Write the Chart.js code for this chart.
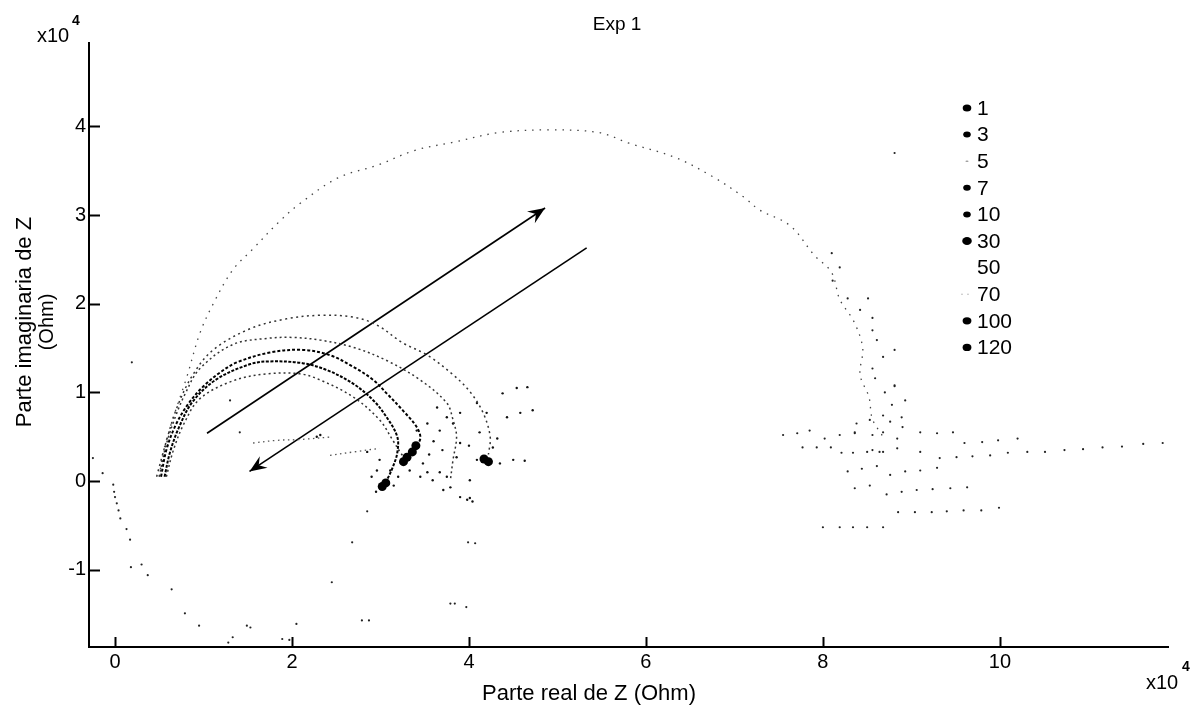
<!DOCTYPE html>
<html>
<head>
<meta charset="utf-8">
<script src="https://cdn.jsdelivr.net/npm/chart.js@4.4.1/dist/chart.umd.min.js"></script>
<style>
  html, body { margin: 0; padding: 0; background: #fff; }
  #wrap { width: 1192px; height: 715px; }
</style>
</head>
<body>
<div id="wrap"><canvas id="nyquist" width="1192" height="715"></canvas></div>
<script>
// values are in units of 1e4 Ohm (axes carry the x10^4 factor)
const seriesNames = ['1', '3', '5', '7', '10', '30', '50', '70', '100', '120'];
const xTicks = [0, 2, 4, 6, 8, 10];
const yTicks = [-1, 0, 1, 2, 3, 4];

// arcs
const arc1 = [[0.52,0.05],[0.58,0.35],[0.68,0.62],[0.82,0.86],[0.99,1.06],[1.18,1.22],[1.38,1.34],[1.75,1.45],[2.12,1.48],[2.43,1.42],[2.69,1.29],[2.92,1.14],[3.07,0.99],[3.25,0.80],[3.41,0.61],[3.45,0.48],[3.38,0.36]];
const arc3 = [[0.56,0.05],[0.62,0.32],[0.72,0.60],[0.88,0.90],[1.15,1.15],[1.53,1.32],[1.75,1.35],[2.12,1.33],[2.40,1.25],[2.69,1.10],[2.92,0.91],[3.07,0.72],[3.19,0.50],[3.19,0.32],[3.14,0.16],[3.07,0.01],[3.02,-0.05]];
const arc7 = [[0.58,0.05],[0.66,0.35],[0.78,0.65],[0.96,0.93],[1.33,1.13],[1.72,1.21],[2.09,1.21],[2.32,1.14],[2.69,0.95],[2.99,0.69],[3.14,0.46],[3.22,0.33],[3.28,0.25]];
const arc10 = [[0.50,0.05],[0.57,0.38],[0.68,0.72],[0.80,1.00],[0.96,1.27],[1.33,1.54],[1.72,1.61],[2.01,1.62],[2.32,1.59],[2.69,1.51],[3.07,1.36],[3.45,1.14],[3.75,0.88],[3.82,0.69],[3.86,0.50],[3.82,0.24],[3.79,0.01]];
const arc30 = [[0.47,0.05],[0.58,0.45],[0.70,0.83],[0.88,1.20],[1.11,1.48],[1.53,1.72],[1.94,1.83],[2.32,1.87],[2.69,1.85],[2.96,1.76],[3.25,1.56],[3.53,1.42],[3.82,1.20],[4.01,1.01],[4.16,0.77],[4.24,0.50],[4.22,0.30]];
const arc70 = [[0.50,0.05],[0.55,0.35],[0.66,0.72],[0.81,1.17],[0.96,1.67],[1.11,2.00],[1.33,2.38],[1.56,2.62],[1.85,2.92],[2.09,3.13],[2.52,3.42],[2.96,3.56],[3.39,3.73],[3.82,3.82],[4.34,3.93],[4.90,3.96],[5.47,3.93],[5.81,3.81],[6.33,3.65],[6.76,3.43],[7.11,3.20],[7.28,3.06],[7.63,2.88],[7.90,2.55],[8.10,2.35],[8.19,2.05],[8.35,1.80],[8.45,1.50],[8.42,1.20],[8.52,0.95],[8.56,0.70],[8.68,0.50]];

// short gray dotted pieces
const seg50a = [[1.56,0.43],[1.83,0.46],[2.10,0.47],[2.46,0.50]];
const seg50b = [[2.43,0.29],[2.70,0.33],[2.99,0.37]];

// scattered dots of the 70 run (right side)
const dots70 = [[8.10,2.57],[8.19,2.41],[8.11,2.26],[8.28,2.06],[8.51,2.06],[8.42,1.93],[8.56,1.84],[8.56,1.70],[8.61,1.59],[8.81,1.48],[8.68,1.40],[8.56,1.27],[8.59,1.16],[8.81,1.08],[8.70,1.00],[8.93,0.91],[8.78,0.86],[8.89,0.72],
  [8.38,0.65],[8.53,0.69],[8.68,0.74],[8.76,0.67],[8.56,0.52],[8.68,0.55],[8.84,0.48],[8.90,0.61],[8.56,0.35],[8.68,0.33],[8.84,0.37],[8.36,0.55],[8.81,1.07],
  [9.10,0.33],[9.32,0.26],[9.51,0.27],[9.69,0.28],[9.89,0.29],[10.09,0.32],[10.31,0.33],[10.51,0.33],[10.73,0.35],[10.94,0.36],[11.16,0.38],[11.38,0.39],[11.62,0.42],[11.84,0.43],
  [9.10,0.55],[9.29,0.54],[9.47,0.55],[9.60,0.43],[9.80,0.44],[9.98,0.46],[10.20,0.48],
  [8.28,0.11],[8.44,0.14],[8.61,0.17],[8.76,0.07],[8.93,0.11],[9.10,0.12],[9.29,0.15],
  [8.36,-0.08],[8.53,-0.05],[8.72,-0.15],[8.89,-0.12],[9.06,-0.10],[9.24,-0.09],[9.44,-0.08],[9.63,-0.07],
  [8.85,-0.35],[9.04,-0.35],[9.23,-0.35],[9.40,-0.34],[9.59,-0.33],[9.79,-0.33],[9.99,-0.30],
  [8.00,-0.52],[8.19,-0.52],[8.34,-0.52],[8.50,-0.52],[8.68,-0.52],
  [7.55,0.52],[7.71,0.54],[7.85,0.57],[8.02,0.48],[8.19,0.52],[8.36,0.54],
  [7.77,0.38],[7.93,0.38],[8.09,0.38],[8.21,0.32],[8.34,0.32],[8.50,0.33],[8.64,0.33],[8.81,3.70]];

// noisy dots around the small arcs' ends
const dots100 = [[2.85,0.33],[2.99,0.24],[2.96,0.12],[3.11,0.12],[3.33,0.12],[3.53,0.10],[3.67,0.10],[3.75,0.05],[3.79,-0.07],[3.71,-0.10],[3.90,-0.18],[4.01,-0.19],[3.90,0.43],[3.86,0.27],[4.09,0.24],[4.20,0.21],[4.35,0.20],[4.50,0.24],[4.63,0.23],[4.27,0.38],[4.32,0.48],[4.20,0.77],[4.09,0.88],[4.38,0.99],[4.54,1.05],[4.66,1.06],[4.43,0.72],[4.58,0.77],[4.72,0.80],[3.64,0.83],[3.75,0.72],[3.82,0.65],[3.53,0.65],[3.67,0.57],[3.41,0.57],[3.90,0.77],[3.59,0.01],[4.01,0.01],[3.98,-0.21],[4.04,-0.23],[3.55,0.30],[3.60,0.45],[3.48,0.20],[2.90,0.05],[2.95,-0.12],[3.15,-0.05],[3.20,0.05],[3.45,0.05],[3.70,0.35],[4.00,0.40],[4.12,0.55],[2.28,0.50],[2.32,0.52]];

// dark clumps
const blobs120 = [[3.02,-0.06],[3.06,-0.02],[3.30,0.27],[3.36,0.33],[3.26,0.22],[4.17,0.25],[4.22,0.22],[3.40,0.40]];

// sparse dots, mostly below zero
const dots5 = [[-0.25,0.26],[-0.14,0.09],[-0.02,-0.04],[-0.01,-0.12],[0.00,-0.18],[0.02,-0.25],[0.04,-0.33],[0.06,-0.42],[0.13,-0.54],[0.17,-0.66],[0.18,-0.97],[0.30,-0.94],[0.37,-1.06],[0.64,-1.22],[0.79,-1.49],[0.95,-1.63],[1.28,-1.82],[1.33,-1.76],[1.49,-1.63],[1.53,-1.65],[1.89,-1.78],[1.97,-1.79],[2.05,-1.61],[2.45,-1.14],[2.68,-0.69],[2.79,-1.57],[2.87,-1.57],[2.85,-0.34],[3.79,-1.38],[3.84,-1.38],[3.97,-1.42],[3.99,-0.69],[4.07,-0.70],[0.19,1.34],[1.30,0.91],[1.41,0.55]];

// the two arrows
const arrowUp = [[1.04,0.54],[4.86,3.08]];
const arrowDown = [[5.33,2.63],[1.52,0.11]];

const xy = pts => pts.map(([x, y]) => ({ x, y }));
const FONT = '"Liberation Sans", Arial, sans-serif';

// legend marker look (style, not data)
const legendMarks = [
  { r: 3.5, c: '#000' }, { r: 3, c: '#000' }, { r: 0.8, c: '#999' }, { r: 3, c: '#000' }, { r: 3, c: '#000' },
  { r: 4, c: '#000' }, { r: 0, c: '#fff' }, { r: 0.7, c: '#aaa', twin: true }, { r: 3.6, c: '#000' }, { r: 3.6, c: '#000' }
];

const lineSet = (label, pts, color, width, dash) => ({
  label, data: xy(pts), showLine: true, borderColor: color, borderWidth: width,
  borderDash: dash, pointRadius: 0, fill: false, tension: 0.35
});
const dotSet = (label, pts, color, r) => ({
  label, data: xy(pts), showLine: false, pointRadius: r, pointBorderWidth: 0,
  pointBackgroundColor: color, backgroundColor: color
});

const arrowHeads = {
  id: 'arrowHeads',
  afterDatasetsDraw(chart) {
    const ctx = chart.ctx;
    chart.data.datasets.forEach((ds, i) => {
      if (!ds.arrow) return;
      const pts = chart.getDatasetMeta(i).data;
      const a = pts[pts.length - 2], b = pts[pts.length - 1];
      const ang = Math.atan2(b.y - a.y, b.x - a.x);
      ctx.save();
      ctx.translate(b.x, b.y);
      ctx.rotate(ang);
      ctx.beginPath();
      ctx.moveTo(0, 0);
      ctx.lineTo(-17, -7);
      ctx.lineTo(-11, 0);
      ctx.lineTo(-17, 7);
      ctx.closePath();
      ctx.fillStyle = '#000';
      ctx.fill();
      ctx.restore();
    });
  }
};

const matlabDecor = {
  id: 'matlabDecor',
  afterDraw(chart) {
    const ctx = chart.ctx;
    const { left, right, top, bottom } = chart.chartArea;
    const xs = chart.scales.x, ys = chart.scales.y;
    ctx.save();
    ctx.strokeStyle = '#000';
    ctx.lineWidth = 2;
    // inward ticks
    xTicks.forEach(v => {
      const px = Math.round(xs.getPixelForValue(v)) + 0.5;
      ctx.beginPath(); ctx.moveTo(px, bottom); ctx.lineTo(px, bottom - 10); ctx.stroke();
    });
    yTicks.forEach(v => {
      const py = Math.round(ys.getPixelForValue(v)) + 0.5;
      ctx.beginPath(); ctx.moveTo(left, py); ctx.lineTo(left + 11, py); ctx.stroke();
    });

    ctx.fillStyle = '#000';
    ctx.textBaseline = 'alphabetic';
    // title
    ctx.font = '19px ' + FONT;
    ctx.textAlign = 'center';
    ctx.fillText('Exp 1', 617, 30);
    // exponent marks
    ctx.textAlign = 'left';
    ctx.font = '20px ' + FONT;
    ctx.fillText('x10', 37, 42);
    ctx.fillText('x10', 1146, 689);
    ctx.font = 'bold 14px ' + FONT;
    ctx.fillText('4', 72, 25);
    ctx.fillText('4', 1182, 671);
    // axis labels
    ctx.font = '22px ' + FONT;
    ctx.textAlign = 'center';
    ctx.fillText('Parte real de Z (Ohm)', 589, 700);
    ctx.save();
    ctx.translate(25, 322);
    ctx.rotate(-Math.PI / 2);
    ctx.textBaseline = 'middle';
    ctx.fillText('Parte imaginaria de Z', 0, 0);
    ctx.font = '20px ' + FONT;
    ctx.fillText('(Ohm)', 0, 22);
    ctx.restore();

    // legend
    ctx.font = '21px ' + FONT;
    ctx.textBaseline = 'middle';
    ctx.textAlign = 'left';
    seriesNames.forEach((name, i) => {
      const y = 108 + i * 26.6;
      const m = legendMarks[i];
      ctx.fillStyle = m.c;
      if (m.r > 0) {
        ctx.beginPath();
        if (m.twin) {
          ctx.arc(962, y, m.r, 0, Math.PI * 2);
          ctx.arc(968, y, m.r, 0, Math.PI * 2);
        } else {
          ctx.ellipse(967, y, m.r + 0.8, m.r, 0, 0, Math.PI * 2);
        }
        ctx.fill();
      }
      ctx.fillStyle = '#000';
      ctx.fillText(name, 977, y + 1);
    });
    ctx.restore();
  }
};

new Chart(document.getElementById('nyquist'), {
  type: 'scatter',
  data: {
    datasets: [
      dotSet('120', blobs120, '#000', 4.5),
      lineSet('3', arc3, '#000', 2, [3, 1.5]),
      lineSet('1', arc1, '#000', 2, [3, 2]),
      lineSet('7', arc7, '#333', 1.5, [2, 3]),
      lineSet('10', arc10, '#333', 1.5, [2, 3]),
      lineSet('30', arc30, '#333', 1.5, [2, 3.5]),
      lineSet('50', seg50a, '#555', 1.3, [1.5, 3.5]),
      lineSet('50', seg50b, '#555', 1.3, [1.5, 3.5]),
      lineSet('70', arc70, '#444', 1.3, [1.5, 6]),
      dotSet('70', dots70, '#222', 1.1),
      dotSet('100', dots100, '#111', 1.2),
      dotSet('5', dots5, '#222', 1.1),
      { label: 'up', data: xy(arrowUp), showLine: true, borderColor: '#000', borderWidth: 1.6, pointRadius: 0, arrow: true },
      { label: 'down', data: xy(arrowDown), showLine: true, borderColor: '#000', borderWidth: 1.6, pointRadius: 0, arrow: true }
    ]
  },
  options: {
    responsive: false,
    animation: false,
    devicePixelRatio: 1,
    layout: { padding: { top: 43, right: 24, left: 0, bottom: 0 } },
    plugins: { legend: { display: false }, tooltip: { enabled: false }, title: { display: false } },
    scales: {
      x: {
        type: 'linear', min: -0.294, max: 11.9,
        grid: { display: false, drawTicks: false },
        border: { display: true, color: '#000', width: 2 },
        afterBuildTicks: s => { s.ticks = xTicks.map(v => ({ value: v })); },
        afterFit: s => { s.height = 68; },
        ticks: { color: '#000', font: { family: FONT, size: 20 }, padding: 3, callback: v => String(v) }
      },
      y: {
        type: 'linear', min: -1.87, max: 4.94,
        grid: { display: false, drawTicks: false },
        border: { display: true, color: '#000', width: 2 },
        afterBuildTicks: s => { s.ticks = yTicks.map(v => ({ value: v })); },
        afterFit: s => { s.width = 89; },
        ticks: { color: '#000', font: { family: FONT, size: 20 }, padding: 3, callback: v => String(v) }
      }
    }
  },
  plugins: [arrowHeads, matlabDecor]
});
</script>
</body>
</html>
